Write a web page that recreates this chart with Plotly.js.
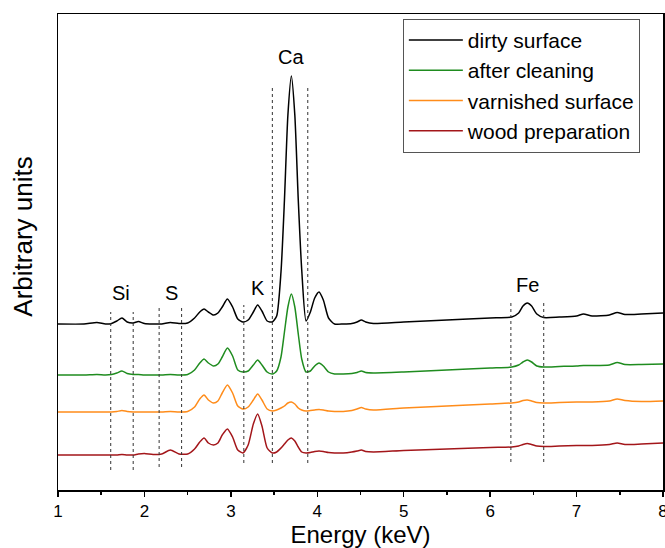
<!DOCTYPE html>
<html>
<head>
<meta charset="utf-8">
<script src="https://cdn.plot.ly/plotly-3.0.1.min.js"></script>
<style>html,body{margin:0;padding:0;background:#fff;}#chart{width:665px;height:548px;}</style>
</head>
<body>
<div id="chart"></div>
<script>
// Energy grid (keV)
const energy = [1.0, 1.3, 1.45, 1.55, 1.62, 1.68, 1.74, 1.8, 1.87, 1.93, 2.0, 2.1, 2.2, 2.3, 2.4, 2.5, 2.58, 2.64, 2.69, 2.74, 2.8, 2.85, 2.9, 2.96, 3.02, 3.08, 3.14, 3.2, 3.26, 3.31, 3.36, 3.42, 3.48, 3.53, 3.58, 3.62, 3.66, 3.70, 3.74, 3.78, 3.82, 3.87, 3.92, 3.97, 4.02, 4.07, 4.13, 4.2, 4.3, 4.4, 4.46, 4.51, 4.56, 4.65, 5.0, 5.5, 6.0, 6.25, 6.33, 6.38, 6.43, 6.48, 6.54, 6.62, 6.8, 7.0, 7.08, 7.18, 7.38, 7.47, 7.56, 7.75, 8.0];

const dirtySurface = [166, 166, 167.5, 166, 166.5, 169, 172, 168, 167, 168.5, 166.5, 166, 166, 167.5, 166.5, 167, 172, 178, 181, 178, 175, 177, 183, 191, 183, 171, 168, 170, 178, 185, 179, 169, 168, 174, 218, 290, 375, 414, 375, 290, 220, 169, 178, 192, 198, 190, 172, 166, 166, 166.5, 168, 170, 168, 166.5, 168, 170, 172, 173, 177, 184, 187, 184, 176, 172.5, 173, 174, 176, 174, 175, 177.5, 175.5, 176, 177];

const afterCleaning = [115, 115, 115.5, 115, 115.5, 117, 119, 116.5, 115.5, 115.5, 115, 115, 115, 115.5, 115, 115.5, 120, 127, 131, 127, 124, 126, 133, 142, 134, 120, 118, 119, 125, 130, 125, 118, 116, 119, 133, 158, 183, 196, 183, 156, 131, 118, 119, 124, 127, 124, 118, 116, 116, 116.5, 117.5, 119, 117.5, 117, 118, 120, 122, 123, 125, 128, 130, 128, 124, 123, 123.5, 124, 124.5, 124.5, 125, 127.5, 125.5, 125.5, 126];

const varnishedSurface = [78, 78, 78, 78, 78, 78.5, 79.5, 78.5, 78, 78, 78, 78, 78, 78.5, 78, 78.5, 83, 91, 95, 90, 87, 89, 97, 105, 97, 84, 81, 83, 90, 96, 90, 81, 79, 80, 82, 84, 87, 88, 86, 82, 80, 79, 79.5, 80, 80.5, 80, 79, 78.5, 78.5, 79.5, 81, 82.5, 81, 80, 82, 84, 86, 87, 88, 89.5, 90, 89, 87.5, 87, 87.5, 88, 88, 88, 89, 91, 89.5, 88.5, 89];

const woodPreparation = [35, 35, 35, 35, 35, 35, 35.5, 35, 35, 36, 36.5, 35.5, 36, 40, 36, 36, 41, 48, 52, 47, 45, 47, 55, 61, 53, 40, 37, 45, 66, 76, 64, 42, 37, 38, 42, 46, 50, 52, 49, 43, 38, 37, 37.5, 38.5, 39, 38.5, 37.5, 37, 37, 38, 39, 40, 38.5, 38, 39.5, 41, 42.5, 43, 44, 45.5, 46.5, 45.5, 44, 43.5, 44, 44.5, 44.5, 44.5, 45.5, 47, 45.5, 46, 47];

const seriesNames = ["dirty surface", "after cleaning", "varnished surface", "wood preparation"];
const seriesColors = ["#000000", "#1f8c1f", "#ff8c1a", "#a3161a"];
const seriesData = [dirtySurface, afterCleaning, varnishedSurface, woodPreparation];

// Element marker lines (keV) and their vertical extents (arbitrary units)
const markerEnergy = [1.61, 1.87, 2.17, 2.43, 3.15, 3.48, 3.89, 6.24, 6.62];
const markerTop    = [178, 178, 182, 182, 185, 403, 403, 187, 187];
const markerBottom = [20, 20, 23, 23, 27, 27, 27, 28, 28];

// Element labels
const elementNames = ["Si", "S", "K", "Ca", "Fe"];
const elementEnergy = [1.73, 2.31, 3.31, 3.70, 6.43];
const elementLevel = [197, 197, 202, 433, 205];

const tickVals = [1, 2, 3, 4, 5, 6, 7, 8];
const yTitle = "Arbitrary units";

const FONT = "Arial, 'Liberation Sans', sans-serif";

const traces = seriesData.map((ys, i) => ({
  x: energy, y: ys, type: "scatter", mode: "lines", name: seriesNames[i],
  line: {color: seriesColors[i], width: 1.5, shape: "spline", smoothing: 0.6}
}));

const shapes = markerEnergy.map((e, i) => ({
  type: "line", xref: "x", yref: "y", x0: e, x1: e, y0: markerBottom[i], y1: markerTop[i],
  line: {color: "#333", width: 1, dash: "3px,3px"}
}));

const annotations = elementNames.map((n, i) => ({
  text: n, x: elementEnergy[i], y: elementLevel[i], xref: "x", yref: "y",
  showarrow: false, font: {family: FONT, size: 20, color: "#000"}
}));
annotations.push({
  text: yTitle, xref: "paper", yref: "paper", x: -0.058, y: 0.532,
  xanchor: "center", yanchor: "middle", textangle: -90, showarrow: false,
  font: {family: FONT, size: 26, color: "#000"}
});

const layout = {
  width: 665, height: 548,
  margin: {l: 58, r: 2, t: 14, b: 58},
  paper_bgcolor: "#fff", plot_bgcolor: "#fff",
  showlegend: true,
  legend: {
    x: 0.570, y: 0.99, xanchor: "left", yanchor: "top",
    bgcolor: "#fff", bordercolor: "#555", borderwidth: 1,
    font: {family: FONT, size: 21, color: "#000"},
    itemwidth: 54, tracegroupgap: 0
  },
  xaxis: {
    range: [0.9999, 8.0001], tickvals: tickVals, ticktext: tickVals.map(String),
    ticks: "outside", ticklen: 5, tickwidth: 1.5, tickcolor: "#000",
    ticklabeloverflow: "allow",
    minor: {dtick: 0.5, ticks: "outside", ticklen: 3, tickwidth: 1.5, tickcolor: "#000"},
    showline: true, linecolor: "#000", linewidth: 1.5, mirror: true,
    showgrid: false, zeroline: false,
    tickfont: {family: FONT, size: 17, color: "#000"},
    title: {text: "Energy (keV)", font: {family: FONT, size: 24, color: "#000"}, standoff: 4}
  },
  yaxis: {
    range: [0, 476], showticklabels: false, ticks: "",
    showline: true, linecolor: "#000", linewidth: 1.5, mirror: true,
    showgrid: false, zeroline: false
  },
  shapes: shapes,
  annotations: annotations
};

Plotly.newPlot("chart", traces, layout, {displayModeBar: false, staticPlot: true});
</script>
</body>
</html>
